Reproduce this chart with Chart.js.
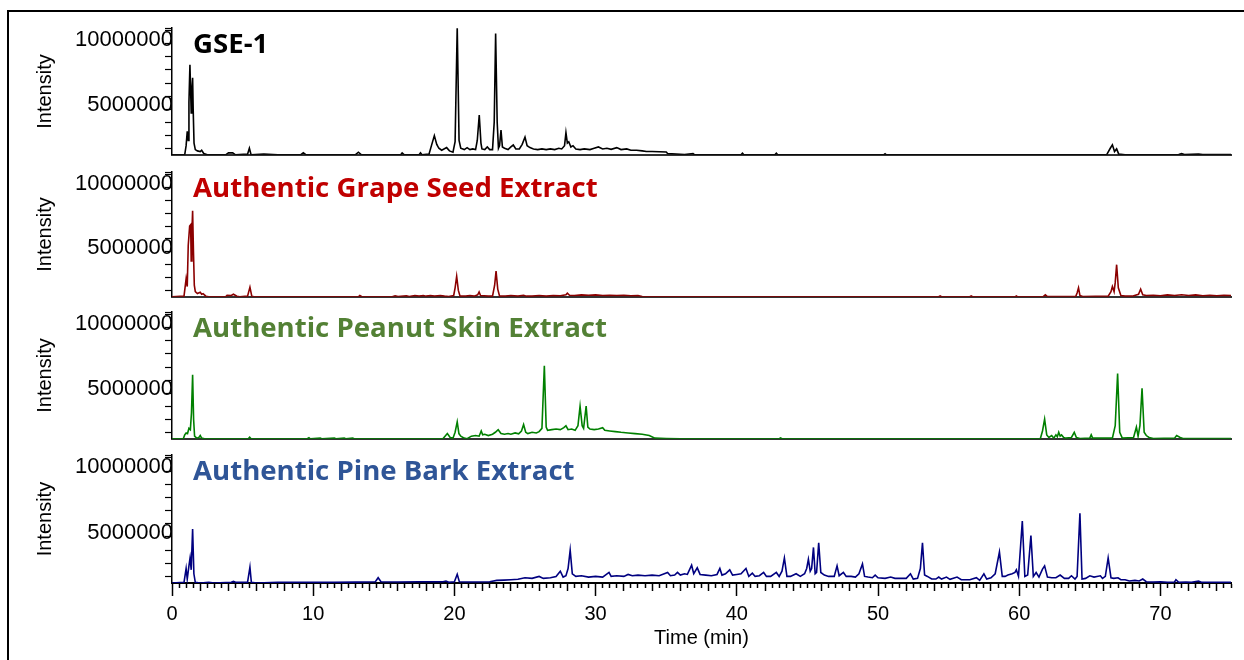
<!DOCTYPE html>
<html>
<head>
<meta charset="utf-8">
<script src="https://cdn.jsdelivr.net/npm/chart.js@4"></script>
<style>
  body { margin: 0; background: #fff; width: 1244px; height: 660px; overflow: hidden; position: relative; }
  #frame { position: absolute; left: 7px; top: 10px; width: 1260px; height: 700px; border: 2px solid #000; }
  .panel { position: absolute; left: 0; }
  .panel canvas { display: block; }
</style>
</head>
<body>
<div id="frame"></div>
<div class="panel" id="w0"><canvas id="c0"></canvas></div>
<div class="panel" id="w1"><canvas id="c1"></canvas></div>
<div class="panel" id="w2"><canvas id="c2"></canvas></div>
<div class="panel" id="w3"><canvas id="c3"></canvas></div>
<script>
// [time (min), intensity (millions)]
const gse1 = [
  [0, 1.5], [0.9, 1.5], [1.0, 2.2], [1.08, 3.3], [1.15, 2.6], [1.2, 5.5], [1.27, 8.4], [1.33, 6.0], [1.36, 4.7],
  [1.41, 6.5], [1.46, 7.4], [1.5, 5.0], [1.56, 2.4], [1.65, 1.9], [1.8, 1.8], [2.0, 1.75], [2.1, 1.85], [2.25, 1.6],
  [2.5, 1.5], [3.8, 1.5], [4.0, 1.65], [4.3, 1.65], [4.5, 1.5], [5.35, 1.55], [5.48, 2.0], [5.6, 1.5], [6.5, 1.55],
  [7.5, 1.5], [9.1, 1.5], [9.3, 1.65], [9.5, 1.5], [13.0, 1.52], [13.2, 1.7], [13.4, 1.52], [16.2, 1.5], [16.3, 1.65],
  [16.45, 1.5], [17.5, 1.5], [17.6, 1.65], [17.7, 1.5], [18.2, 1.55], [18.4, 2.3], [18.58, 2.97], [18.75, 2.3],
  [18.9, 2.0], [19.1, 1.85], [19.45, 2.05], [19.65, 1.8], [19.9, 1.7], [20.05, 2.5], [20.2, 11.3], [20.33, 2.6],
  [20.45, 2.0], [20.7, 1.9], [20.9, 2.05], [21.1, 1.9], [21.3, 1.95], [21.5, 1.9], [21.62, 2.6], [21.76, 4.55],
  [21.88, 2.4], [21.95, 1.95], [22.15, 1.9], [22.33, 2.1], [22.5, 1.9], [22.7, 1.9], [22.82, 4.0], [22.92, 10.8],
  [23.03, 4.0], [23.12, 2.0], [23.2, 2.2], [23.3, 3.4], [23.4, 2.1], [23.55, 2.0], [23.8, 1.9], [24.0, 2.1],
  [24.17, 2.25], [24.35, 1.95], [24.6, 1.95], [24.8, 2.3], [25.0, 2.85], [25.15, 2.2], [25.35, 2.05], [25.6, 1.95],
  [25.9, 1.9], [26.2, 1.95], [26.5, 1.9], [26.8, 1.95], [27.1, 1.9], [27.4, 2.0], [27.6, 1.95], [27.8, 2.2],
  [27.9, 3.2], [28.0, 2.4], [28.1, 2.5], [28.25, 2.1], [28.4, 2.2], [28.6, 1.95], [28.9, 1.9], [29.2, 1.95],
  [29.6, 1.9], [29.9, 2.0], [30.2, 2.1], [30.5, 1.95], [30.8, 2.0], [31.1, 1.92], [31.5, 2.05], [31.8, 1.9],
  [32.2, 1.95], [32.5, 1.85], [32.9, 1.85], [33.3, 1.8], [33.6, 1.75], [34.0, 1.75], [35.0, 1.72], [35.1, 1.6],
  [36.3, 1.52], [36.9, 1.6], [37.0, 1.52], [40.3, 1.5], [40.4, 1.62], [40.5, 1.5], [42.7, 1.5], [42.8, 1.62],
  [42.9, 1.5], [50.4, 1.5], [50.5, 1.58], [50.6, 1.5], [66.2, 1.52], [66.45, 2.0], [66.6, 2.26], [66.75, 1.75],
  [66.9, 1.95], [67.05, 1.55], [67.5, 1.5], [71.3, 1.52], [71.5, 1.6], [71.7, 1.52], [72.7, 1.55], [73.0, 1.52],
  [75, 1.52]
];
const grapeSeed = [
  [0, 1.5], [0.85, 1.55], [1.0, 2.9], [1.08, 2.3], [1.15, 5.5], [1.25, 7.0], [1.32, 7.1], [1.36, 4.3], [1.41, 6.5],
  [1.46, 8.2], [1.52, 5.0], [1.58, 2.4], [1.65, 1.9], [1.8, 1.75], [2.0, 1.85], [2.1, 1.7], [2.2, 1.75], [2.4, 1.55],
  [2.6, 1.5], [3.8, 1.5], [3.9, 1.62], [4.2, 1.6], [4.35, 1.7], [4.6, 1.55], [4.8, 1.5], [5.35, 1.55], [5.52, 2.25],
  [5.65, 1.55], [5.8, 1.5], [13.2, 1.5], [13.3, 1.6], [13.45, 1.5], [15.6, 1.5], [15.8, 1.58], [16.0, 1.52],
  [16.6, 1.58], [16.8, 1.52], [17.2, 1.6], [17.5, 1.55], [17.8, 1.6], [18.0, 1.55], [18.3, 1.6], [18.6, 1.55],
  [19.0, 1.6], [19.3, 1.55], [19.6, 1.52], [19.95, 1.6], [20.05, 2.2], [20.16, 3.1], [20.28, 2.0], [20.4, 1.55],
  [20.8, 1.55], [21.1, 1.6], [21.4, 1.55], [21.65, 1.65], [21.75, 1.88], [21.85, 1.6], [22.1, 1.58], [22.4, 1.55],
  [22.7, 1.55], [22.85, 2.4], [22.95, 3.5], [23.07, 2.1], [23.2, 1.55], [23.6, 1.55], [24.0, 1.6], [24.5, 1.55],
  [24.9, 1.62], [25.1, 1.55], [25.5, 1.55], [26.0, 1.6], [26.5, 1.55], [27.0, 1.6], [27.5, 1.58], [27.9, 1.65],
  [28.0, 1.78], [28.15, 1.62], [28.5, 1.6], [29.0, 1.65], [29.5, 1.62], [30.0, 1.65], [30.5, 1.6], [31.0, 1.62],
  [31.5, 1.6], [32.0, 1.62], [32.5, 1.58], [33.0, 1.6], [33.3, 1.52], [34.0, 1.5], [54.3, 1.5], [54.4, 1.56],
  [54.5, 1.5], [56.5, 1.5], [56.6, 1.56], [56.7, 1.5], [59.7, 1.5], [59.8, 1.57], [59.9, 1.5], [61.7, 1.52],
  [61.85, 1.65], [62.0, 1.52], [64.0, 1.52], [64.1, 1.8], [64.2, 2.2], [64.3, 1.6], [64.5, 1.52], [66.3, 1.55],
  [66.5, 1.9], [66.6, 2.3], [66.72, 1.9], [66.8, 2.6], [66.9, 4.0], [67.02, 2.2], [67.2, 1.6], [67.5, 1.55],
  [68.0, 1.55], [68.45, 1.7], [68.6, 2.1], [68.75, 1.65], [69.0, 1.6], [69.5, 1.62], [70.0, 1.58], [70.5, 1.65],
  [71.0, 1.6], [71.5, 1.66], [72.0, 1.6], [72.5, 1.65], [73.0, 1.58], [73.5, 1.62], [74.0, 1.58], [74.5, 1.62],
  [75, 1.6]
];
const peanutSkin = [
  [0, 1.5], [0.8, 1.5], [0.9, 1.8], [1.0, 1.95], [1.1, 1.9], [1.2, 2.3], [1.3, 2.2], [1.38, 3.5], [1.46, 6.4],
  [1.53, 3.0], [1.6, 1.7], [1.75, 1.55], [1.9, 1.6], [2.0, 1.75], [2.1, 1.55], [2.3, 1.5], [5.4, 1.5], [5.5, 1.62],
  [5.6, 1.5], [9.6, 1.52], [9.7, 1.58], [9.8, 1.5], [10.5, 1.55], [10.6, 1.5], [11.5, 1.56], [11.6, 1.5],
  [12.2, 1.55], [12.3, 1.5], [12.8, 1.55], [12.9, 1.5], [19.2, 1.52], [19.5, 1.9], [19.7, 1.6], [19.9, 1.55],
  [20.05, 2.0], [20.2, 2.8], [20.32, 1.9], [20.45, 1.7], [20.7, 1.55], [20.9, 1.5], [21.2, 1.7], [21.5, 1.75],
  [21.75, 1.7], [21.9, 2.1], [22.0, 1.8], [22.15, 1.85], [22.4, 1.75], [22.7, 1.85], [22.9, 2.0], [23.1, 2.2],
  [23.3, 1.9], [23.55, 1.85], [23.8, 1.9], [24.0, 1.85], [24.3, 1.95], [24.55, 1.88], [24.75, 2.1], [24.9, 2.6],
  [25.05, 2.0], [25.2, 1.9], [25.5, 2.0], [25.8, 1.95], [26.0, 2.05], [26.2, 2.3], [26.37, 7.1], [26.5, 2.4],
  [26.6, 2.15], [26.9, 2.2], [27.2, 2.25], [27.5, 2.2], [27.75, 2.35], [27.9, 2.5], [28.05, 2.2], [28.3, 2.25],
  [28.55, 2.15], [28.75, 2.5], [28.9, 4.0], [29.05, 2.5], [29.15, 2.3], [29.33, 4.0], [29.45, 2.4], [29.6, 2.25],
  [29.9, 2.2], [30.2, 2.25], [30.5, 2.35], [30.65, 2.15], [31.0, 2.1], [31.4, 2.05], [31.8, 2.0], [32.3, 1.95],
  [32.8, 1.9], [33.3, 1.85], [33.8, 1.75], [34.2, 1.55], [35.0, 1.52], [36.0, 1.5], [43.0, 1.5], [43.1, 1.56],
  [43.2, 1.5], [61.5, 1.52], [61.65, 2.1], [61.8, 3.0], [61.95, 1.8], [62.1, 1.6], [62.3, 1.75], [62.45, 1.55],
  [62.6, 1.8], [62.7, 1.65], [62.8, 2.0], [62.9, 1.7], [63.0, 1.8], [63.15, 1.6], [63.3, 1.55], [63.7, 1.6],
  [63.9, 2.0], [64.05, 1.6], [64.3, 1.52], [65.0, 1.55], [65.1, 1.8], [65.2, 1.55], [66.6, 1.55], [66.8, 2.5],
  [66.97, 6.5], [67.12, 2.0], [67.3, 1.55], [68.1, 1.6], [68.3, 2.4], [68.42, 1.7], [68.55, 2.5], [68.7, 5.37],
  [68.85, 2.0], [69.0, 1.75], [69.2, 1.6], [69.5, 1.52], [71.0, 1.55], [71.15, 1.75], [71.4, 1.6], [71.6, 1.52],
  [75, 1.52]
];
const pineBark = [
  [0, 1.5], [0.85, 1.55], [1.0, 2.6], [1.08, 1.8], [1.2, 2.8], [1.28, 3.4], [1.36, 2.5], [1.46, 5.6], [1.55, 2.2],
  [1.65, 1.55], [2.0, 1.5], [2.6, 1.55], [3.0, 1.5], [4.2, 1.55], [4.35, 1.62], [4.5, 1.55], [5.35, 1.55],
  [5.52, 2.7], [5.62, 1.55], [6.0, 1.5], [7.5, 1.55], [9.5, 1.56], [11.5, 1.55], [13.0, 1.57], [14.4, 1.6],
  [14.6, 1.9], [14.8, 1.6], [16.0, 1.58], [17.5, 1.6], [19.2, 1.6], [19.4, 1.65], [19.6, 1.55], [20.0, 1.6],
  [20.2, 2.16], [20.35, 1.6], [21.0, 1.58], [22.5, 1.6], [23.0, 1.7], [23.5, 1.72], [24.0, 1.75], [24.5, 1.78],
  [25.0, 1.9], [25.5, 1.85], [26.0, 2.0], [26.3, 1.85], [26.8, 1.9], [27.2, 2.0], [27.5, 2.4], [27.7, 1.95],
  [27.9, 2.05], [28.05, 2.6], [28.2, 4.0], [28.35, 2.2], [28.6, 2.0], [29.0, 2.05], [29.5, 1.95], [30.0, 2.0],
  [30.5, 1.95], [30.95, 2.3], [31.1, 2.0], [31.5, 2.05], [32.0, 2.0], [32.3, 2.15], [32.6, 2.05], [33.0, 2.1],
  [33.5, 2.05], [34.0, 2.1], [34.5, 2.05], [35.1, 2.3], [35.3, 2.05], [35.6, 2.1], [35.8, 2.3], [36.0, 2.1],
  [36.3, 2.2], [36.5, 2.15], [36.8, 2.85], [36.95, 2.2], [37.2, 2.65], [37.4, 2.15], [37.8, 2.1], [38.2, 2.05],
  [38.6, 2.15], [38.8, 2.6], [38.95, 2.1], [39.2, 2.2], [39.5, 2.5], [39.7, 2.1], [40.0, 2.15], [40.3, 2.2],
  [40.65, 2.6], [40.85, 2.0], [41.1, 2.25], [41.3, 2.0], [41.6, 2.05], [41.9, 2.3], [42.1, 2.0], [42.4, 2.0],
  [42.8, 2.3], [43.0, 2.0], [43.2, 2.4], [43.37, 3.4], [43.55, 2.0], [43.8, 2.0], [44.2, 2.2], [44.5, 2.0],
  [44.8, 2.2], [44.95, 2.6], [45.07, 3.3], [45.2, 2.4], [45.3, 2.6], [45.43, 4.2], [45.55, 2.2], [45.65, 2.3],
  [45.8, 4.55], [45.95, 2.3], [46.2, 2.1], [46.5, 2.0], [46.9, 2.0], [47.1, 2.8], [47.25, 2.05], [47.55, 2.3],
  [47.75, 2.0], [48.1, 2.0], [48.4, 1.95], [48.65, 2.2], [48.9, 2.95], [49.05, 2.0], [49.3, 1.95], [49.6, 1.9],
  [49.8, 2.1], [50.0, 1.9], [50.5, 1.85], [50.9, 1.95], [51.2, 1.85], [51.6, 1.85], [52.0, 1.85], [52.3, 2.2],
  [52.5, 1.8], [52.8, 1.85], [53.0, 2.6], [53.15, 4.55], [53.3, 2.1], [53.5, 2.0], [53.8, 1.8], [54.1, 1.8],
  [54.3, 1.95], [54.5, 1.8], [54.85, 1.95], [55.1, 1.78], [55.6, 1.95], [55.9, 1.75], [56.5, 1.75], [56.97, 1.9],
  [57.2, 1.7], [57.5, 2.2], [57.7, 1.8], [58.0, 1.9], [58.3, 2.2], [58.6, 3.85], [58.8, 2.0], [59.0, 2.0],
  [59.2, 2.1], [59.5, 2.2], [59.7, 2.3], [59.8, 2.5], [59.95, 2.0], [60.22, 6.2], [60.4, 2.0], [60.6, 2.1],
  [60.83, 5.1], [61.0, 2.0], [61.2, 2.3], [61.4, 1.95], [61.65, 2.55], [61.8, 2.8], [62.0, 1.95], [62.3, 1.9],
  [62.6, 1.9], [62.9, 2.1], [63.2, 1.85], [63.5, 1.85], [63.7, 2.05], [63.95, 1.8], [64.1, 2.0], [64.3, 6.8],
  [64.45, 1.8], [64.7, 1.85], [65.0, 2.05], [65.3, 1.95], [65.5, 2.0], [65.75, 2.05], [65.9, 1.85], [66.1, 2.0],
  [66.3, 3.4], [66.5, 1.9], [66.7, 1.85], [67.0, 1.9], [67.2, 1.75], [67.5, 1.75], [67.8, 1.65], [68.2, 1.7],
  [68.5, 1.65], [68.75, 1.8], [69.0, 1.6], [69.5, 1.58], [70.0, 1.6], [70.5, 1.55], [71.0, 1.58], [71.1, 1.75],
  [71.3, 1.55], [71.8, 1.57], [72.2, 1.55], [72.7, 1.65], [72.9, 1.55], [73.5, 1.56], [74.0, 1.55], [75, 1.55]
];

const sampleNames = ['GSE-1', 'Authentic Grape Seed Extract', 'Authentic Peanut Skin Extract', 'Authentic Pine Bark Extract'];
const sampleData = [gse1, grapeSeed, peanutSkin, pineBark];
const lineColors = ['#000000', '#8b0000', '#008000', '#000080'];
const nameColors = ['#000000', '#c00000', '#538135', '#2f5597'];
const yTickValues = [2, 3, 4, 5, 6, 7, 8, 9, 10, 11, 11.2];
const yLabelValues = [5, 10];

// layout of the four panels (px)
const canvasTop = [23, 167, 307, 450];
const canvasHeight = [137, 135, 137, 210];
const axisFont = { family: 'Liberation Sans, Arial, sans-serif', size: 20 };
const yTickFont = { family: 'Liberation Sans, Arial, sans-serif', size: 22 };

const sampleLabel = {
  id: 'sampleLabel',
  afterDraw(chart, args, opts) {
    const ctx = chart.ctx;
    const area = chart.chartArea;
    ctx.save();
    ctx.font = 'bold 27.6px "Open Sans", sans-serif';
    ctx.fillStyle = opts.color;
    ctx.textBaseline = 'alphabetic';
    ctx.fillText(opts.text, area.left + 21, area.top + 25);
    ctx.restore();
  }
};

function makePanel(i) {
  const last = i === sampleData.length - 1;
  const wrap = document.getElementById('w' + i);
  wrap.style.top = canvasTop[i] + 'px';
  const canvas = document.getElementById('c' + i);
  canvas.width = 1244;
  canvas.height = canvasHeight[i];

  const xAxis = {
    type: 'linear',
    min: 0,
    max: 75,
    position: 'bottom',
    border: { display: true, color: last ? '#000' : '#333', width: 2 },
    afterFit: s => { s.height = last ? 77 : 5; }
  };
  if (last) {
    xAxis.ticks = {
      stepSize: 0.5,
      autoSkip: false,
      maxRotation: 0,
      padding: 6,
      color: '#000',
      font: axisFont,
      callback: v => (v % 10 === 0 ? String(v) : '')
    };
    xAxis.grid = {
      drawOnChartArea: false,
      tickLength: 13,
      tickWidth: 1.5,
      tickColor: '#000',
      tickBorderDash: ctx => {
        const v = ctx.tick ? ctx.tick.value : 0;
        if (v % 10 === 0) return [];
        return v % 2 === 0 ? [7, 30] : [4, 30];
      }
    };
    xAxis.title = { display: true, text: 'Time (min)', color: '#000', font: axisFont, padding: { top: 0, bottom: 10 } };
  } else {
    xAxis.ticks = { display: false };
    xAxis.grid = { display: false };
  }

  return new Chart(canvas, {
    type: 'line',
    data: {
      datasets: [{
        label: sampleNames[i],
        data: sampleData[i],
        borderColor: lineColors[i],
        borderWidth: 1.6,
        pointRadius: 0,
        tension: 0,
        fill: false
      }]
    },
    options: {
      responsive: false,
      animation: false,
      layout: { padding: { top: 5, right: 13, left: 0, bottom: 0 } },
      scales: {
        x: xAxis,
        y: {
          min: 1.5,
          max: 11.2,
          afterBuildTicks: s => { s.ticks = yTickValues.map(v => ({ value: v })); },
          afterFit: s => { s.width = 172; },
          ticks: {
            autoSkip: false,
            padding: -8,
            labelOffset: -4,
            color: '#000',
            font: yTickFont,
            callback: v => (yLabelValues.includes(v) ? String(v * 1000000) : '')
          },
          grid: { drawOnChartArea: false, tickLength: 7, tickWidth: 1.2, tickColor: '#000' },
          border: { color: '#000', width: 1.5 },
          title: { display: true, text: 'Intensity', color: '#000', font: axisFont, padding: { top: 33, bottom: 0 } }
        }
      },
      plugins: {
        legend: { display: false },
        tooltip: { enabled: false },
        sampleLabel: { text: sampleNames[i], color: nameColors[i] }
      }
    },
    plugins: [sampleLabel]
  });
}

for (let i = 0; i < sampleData.length; i++) {
  makePanel(i);
}
</script>
</body>
</html>
